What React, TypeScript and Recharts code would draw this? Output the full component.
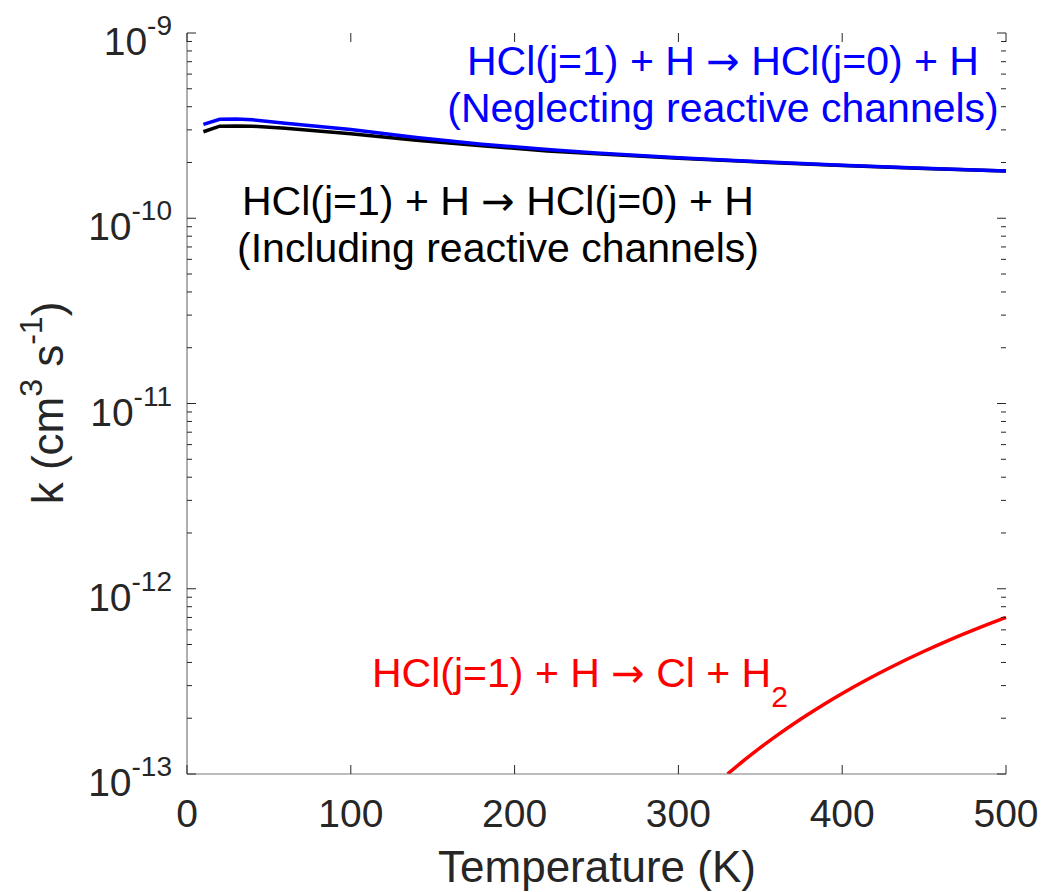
import React from "react";
import {
  LineChart,
  Line,
  XAxis,
  YAxis,
  Customized,
} from "recharts";

// temperatures (K) and rate coefficients (cm^3 s^-1)
const temps = [10, 20, 30, 40, 60, 100, 140, 180, 220, 250, 300, 350, 400, 450, 500];
const neglecting = [
  3.21e-10, 3.42e-10, 3.43e-10, 3.4e-10, 3.26e-10, 3.01e-10, 2.73e-10, 2.51e-10,
  2.35e-10, 2.25e-10, 2.12e-10, 2.02e-10, 1.93e-10, 1.86e-10, 1.8e-10,
];
const including = [
  2.93e-10, 3.14e-10, 3.15e-10, 3.14e-10, 3.06e-10, 2.86e-10, 2.64e-10, 2.46e-10,
  2.31e-10, 2.23e-10, 2.11e-10, 2.01e-10, 1.925e-10, 1.855e-10, 1.8e-10,
];
const reactiveTemps = [330, 340, 350, 360, 375, 390, 400, 415, 430, 450, 465, 480, 500];
const reactive = [
  1.0e-13, 1.183e-13, 1.387e-13, 1.611e-13, 1.987e-13, 2.412e-13, 2.722e-13, 3.228e-13,
  3.783e-13, 4.598e-13, 5.266e-13, 5.976e-13, 7.0e-13,
];

const xTicks = [0, 100, 200, 300, 400, 500];
const decadeExps = [-13, -12, -11, -10, -9];
const minorMults = [1, 2, 3, 4, 5, 6, 7, 8, 9];

const data = temps.map((t, i) => ({ t, blue: neglecting[i], black: including[i] }));
const redData = reactiveTemps.map((t, i) => ({ t, red: reactive[i] }));
const yTicks = decadeExps.flatMap((e) =>
  e === -9 ? [Math.pow(10, e)] : minorMults.map((m) => m * Math.pow(10, e))
);

const W = 1043;
const H = 892;
const PL = 187;
const PR = 1006;
const PT = 33;
const PB = 774;
const FONT = "'Liberation Sans', Arial, Helvetica, sans-serif";
const ARROW_FONT = "'DejaVu Sans', sans-serif";
const INK = "#262626";
const AXIS = "#7a7a7a";

const YTick = (props: any) => {
  const { y, payload } = props;
  const v = payload.value;
  const exp = Math.round(Math.log10(v));
  const major = Math.abs(v / Math.pow(10, exp) - 1) < 1e-6;
  const len = major ? 9 : 5;
  return (
    <g>
      <line x1={PL} x2={PL + len} y1={y} y2={y} stroke={INK} strokeWidth={1} />
      <line x1={PR - len} x2={PR} y1={y} y2={y} stroke={INK} strokeWidth={1} />
      {major && (
        <text x={172} y={y + 22} textAnchor="end" fill={INK} fontSize={39} fontFamily={FONT}>
          <tspan>10</tspan>
          <tspan dy={-20} fontSize={28}>{String(exp)}</tspan>
        </text>
      )}
    </g>
  );
};

const XTick = (props: any) => {
  const { x, payload } = props;
  return (
    <g>
      <line x1={x} x2={x} y1={PB} y2={PB - 9} stroke={INK} strokeWidth={1} />
      <line x1={x} x2={x} y1={PT} y2={PT + 9} stroke={INK} strokeWidth={1} />
      <text x={x} y={827} textAnchor="middle" fill={INK} fontSize={39} fontFamily={FONT}>
        {payload.value}
      </text>
    </g>
  );
};

const Arrow = () => (
  <tspan fontFamily={ARROW_FONT} fontSize={40}>
    →
  </tspan>
);

const Annotations = () => (
  <g fontFamily={FONT}>
    <text x={597} y={882} textAnchor="middle" fill={INK} fontSize={44}>
      Temperature (K)
    </text>
    <text
      transform="translate(63,403) rotate(-90)"
      textAnchor="middle"
      fill={INK}
      fontSize={44}
    >
      <tspan>k (cm</tspan>
      <tspan dy={-21} fontSize={32}>3</tspan>
      <tspan dy={21}> s</tspan>
      <tspan dy={-21} fontSize={32}>-1</tspan>
      <tspan dy={21}>)</tspan>
    </text>
    <text x={723} y={75} textAnchor="middle" fill="#0000ff" fontSize={41}>
      <tspan>HCl(j=1) + H </tspan>
      <Arrow />
      <tspan> HCl(j=0) + H</tspan>
    </text>
    <text x={723} y={122} textAnchor="middle" fill="#0000ff" fontSize={41}>
      (Neglecting reactive channels)
    </text>
    <text x={498} y={215} textAnchor="middle" fill="#000000" fontSize={41}>
      <tspan>HCl(j=1) + H </tspan>
      <Arrow />
      <tspan> HCl(j=0) + H</tspan>
    </text>
    <text x={498} y={262} textAnchor="middle" fill="#000000" fontSize={41}>
      (Including reactive channels)
    </text>
    <text x={372} y={687} fill="#ff0000" fontSize={41}>
      <tspan>HCl(j=1) + H </tspan>
      <Arrow />
      <tspan> Cl + H</tspan>
      <tspan dy={20} fontSize={30}>2</tspan>
    </text>
  </g>
);

export default function App() {
  return (
    <div style={{ position: "absolute", left: 0, top: 0, background: "#fff" }}>
      <LineChart
        width={W}
        height={H}
        data={data}
        margin={{ top: PT, right: W - PR, bottom: 0, left: 0 }}
      >
        <XAxis
          dataKey="t"
          type="number"
          domain={[0, 500]}
          ticks={xTicks}
          interval={0}
          height={H - PB}
          axisLine={{ stroke: AXIS, strokeWidth: 1.2 }}
          tickLine={false}
          tick={<XTick />}
        />
        <XAxis
          xAxisId="top"
          orientation="top"
          type="number"
          domain={[0, 500]}
          height={0}
          axisLine={{ stroke: AXIS, strokeWidth: 1.2 }}
          tickLine={false}
          tick={false}
        />
        <YAxis
          type="number"
          scale="log"
          domain={[1e-13, 1e-9]}
          allowDataOverflow
          ticks={yTicks}
          interval={0}
          width={PL}
          axisLine={{ stroke: AXIS, strokeWidth: 1.2 }}
          tickLine={false}
          tick={<YTick />}
        />
        <YAxis
          yAxisId="right"
          orientation="right"
          type="number"
          scale="log"
          domain={[1e-13, 1e-9]}
          allowDataOverflow
          width={0}
          axisLine={{ stroke: AXIS, strokeWidth: 1.2 }}
          tickLine={false}
          tick={false}
        />
        <Line
          dataKey="black"
          stroke="#000000"
          strokeWidth={3.5}
          dot={false}
          type="linear"
          isAnimationActive={false}
        />
        <Line
          dataKey="blue"
          stroke="#0000ff"
          strokeWidth={3.5}
          dot={false}
          type="linear"
          isAnimationActive={false}
        />
        <Line
          data={redData}
          dataKey="red"
          stroke="#ff0000"
          strokeWidth={3.5}
          dot={false}
          type="monotone"
          isAnimationActive={false}
        />
        <Customized component={Annotations} />
      </LineChart>
    </div>
  );
}
